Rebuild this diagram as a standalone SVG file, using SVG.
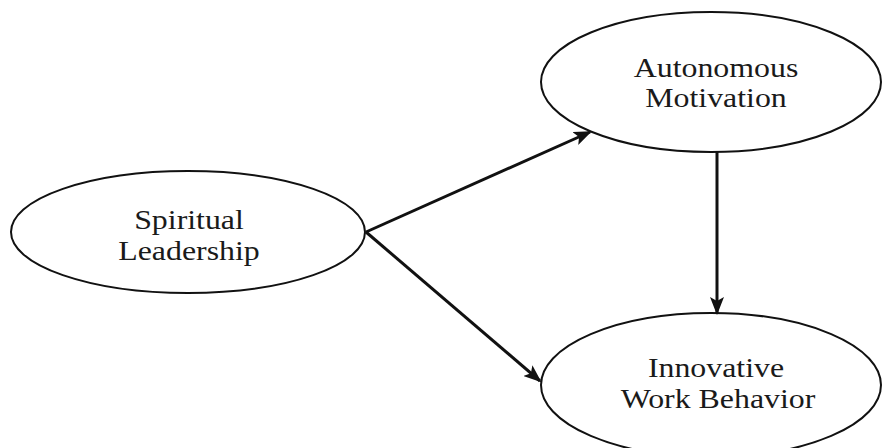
<svg xmlns="http://www.w3.org/2000/svg" width="882" height="448" viewBox="0 0 882 448">
<defs>
<style>
.node ellipse{fill:#fff;stroke:#111;stroke-width:2}
.node text{font-family:"Liberation Serif","Times New Roman",serif;font-size:27px;fill:#1a1a1a;text-anchor:middle}
.conn line{stroke:#111;stroke-width:3}
</style>
<marker id="ah" markerUnits="userSpaceOnUse" markerWidth="18" markerHeight="14" refX="16" refY="7" orient="auto" viewBox="0 0 18 14">
<path d="M0,0 L18,7 L0,14 L4,7 Z" fill="#111"/>
</marker>
</defs>
<rect width="882" height="448" fill="#fff"/>
<g id="spiritual-leadership" class="node">
<ellipse cx="188" cy="232" rx="177" ry="61"/>
<text transform="translate(189,229) scale(1.18,1)">Spiritual</text>
<text transform="translate(189,260) scale(1.18,1)">Leadership</text>
</g>
<g id="autonomous-motivation" class="node">
<ellipse cx="711" cy="82" rx="170" ry="70"/>
<text transform="translate(716,77) scale(1.18,1)">Autonomous</text>
<text transform="translate(716,107) scale(1.18,1)">Motivation</text>
</g>
<g id="innovative-work-behavior" class="node">
<ellipse cx="711" cy="385" rx="170" ry="72"/>
<text transform="translate(716,377) scale(1.18,1)">Innovative</text>
<text transform="translate(718,408) scale(1.18,1)">Work Behavior</text>
</g>
<g id="connectors" class="conn">
<line x1="366" y1="232" x2="590" y2="132" marker-end="url(#ah)"/>
<line x1="366" y1="232" x2="540" y2="381" marker-end="url(#ah)"/>
<line x1="717" y1="152" x2="717" y2="313" marker-end="url(#ah)"/>
</g>
</svg>
